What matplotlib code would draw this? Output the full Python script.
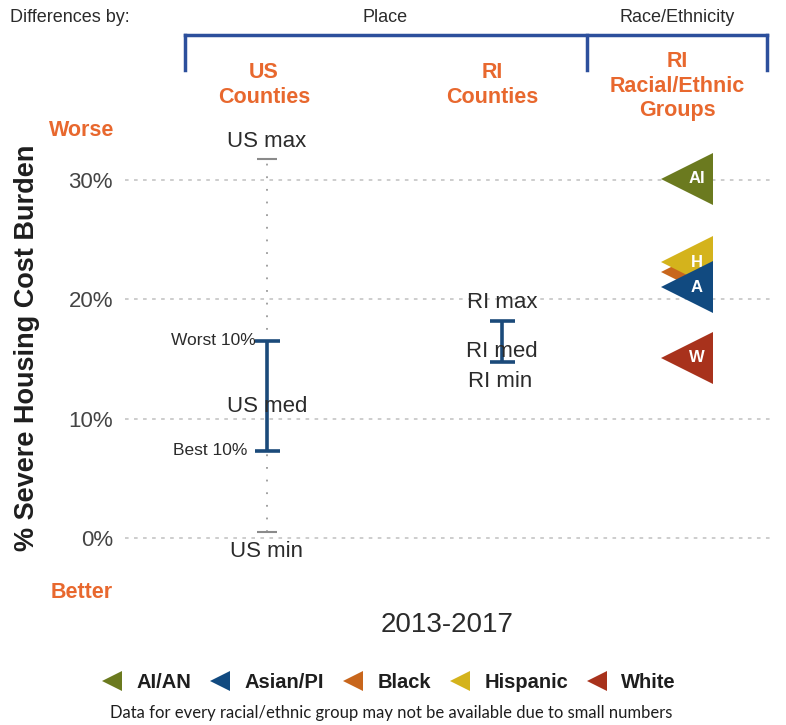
import matplotlib
matplotlib.use("Agg")
import matplotlib.pyplot as plt
from matplotlib.lines import Line2D

# ---------------- data ----------------
period = "2013-2017"
us_stats = {"min": 0.5, "best10": 7.3, "med": 11.0, "worst10": 16.5, "max": 31.7}
ri_stats = {"min": 14.7, "med": 15.6, "max": 18.2}
race_groups = ["AI/AN", "Asian/PI", "Black", "Hispanic", "White"]
race_letters = ["AI", "A", "B", "H", "W"]
race_values = [30.1, 21.0, 22.3, 23.1, 15.1]
race_colors = ["#6b7a1f", "#114a80", "#c8661c", "#d4b31c", "#a8321c"]
draw_order = ["AI/AN", "Black", "Hispanic", "Asian/PI", "White"]
y_ticks = [0, 10, 20, 30]
y_ticklabels = ["0%", "10%", "20%", "30%"]
group_headers = ["US\nCounties", "RI\nCounties", "RI\nRacial/Ethnic\nGroups"]

W, H = 786, 725
FONT = "Liberation Sans"
ORANGE = "#e8682e"
NAVY = "#1b4a7a"
BRACKET = "#2c4f9c"
TXT = "#2b2b2b"

plt.rcParams["font.family"] = [FONT, "DejaVu Sans"]

fig = plt.figure(figsize=(W / 100, H / 100), dpi=100)
fig.patch.set_facecolor("white")

def fx(x):
    return x / W

def fy(y):
    return 1 - y / H

# axes spanning pixel x 120..775, y 120..600
ax = fig.add_axes([fx(120), fy(600), fx(775) - fx(120), fy(120) - fy(600)])
ax.set_xlim(0, 1)
ax.set_ylim(-5.2, 35.0)
for s in ax.spines.values():
    s.set_visible(False)
ax.set_xticks([])
ax.set_yticks(y_ticks)
ax.set_yticklabels(y_ticklabels, fontsize=16, color="#444444")
ax.tick_params(axis="y", length=0, pad=5)

x_us, x_ri, x_race = 0.224, 0.583, 0.866

# grid lines
for t in y_ticks:
    ax.axhline(t, xmin=0.008, xmax=0.992, color="#c9c9c9", lw=1.3,
               linestyle=(0, (2, 3)), zorder=0)

# ---------------- US counties ----------------
ax.vlines(x_us, us_stats["min"], us_stats["max"], color="#9a9a9a", lw=1.3,
          linestyle=(0, (1, 6)), zorder=1)
for k in ("min", "max"):
    ax.hlines(us_stats[k], x_us - 0.015, x_us + 0.015, color="#8a8a8a", lw=1.5, zorder=2)
ax.errorbar([x_us], [(us_stats["best10"] + us_stats["worst10"]) / 2],
            yerr=[[(us_stats["worst10"] - us_stats["best10"]) / 2],
                  [(us_stats["worst10"] - us_stats["best10"]) / 2]],
            fmt="none", ecolor=NAVY, elinewidth=2.6, capsize=9, capthick=2.6, zorder=3)
ax.annotate("US max", (x_us, us_stats["max"]), xytext=(0, 13), textcoords="offset points",
            ha="center", va="center", fontsize=16, color=TXT)
ax.annotate("US min", (x_us, us_stats["min"]), xytext=(0, -14), textcoords="offset points",
            ha="center", va="center", fontsize=16, color=TXT)
ax.text(x_us, us_stats["med"], "US med", ha="center", va="center", fontsize=16, color=TXT, zorder=4)
ax.annotate("Worst 10%", (x_us, us_stats["worst10"]), xytext=(-8, 0), textcoords="offset points",
            ha="right", va="center", fontsize=12.5, color=TXT)
ax.annotate("Best 10%", (x_us, us_stats["best10"]), xytext=(-14, 0), textcoords="offset points",
            ha="right", va="center", fontsize=12.5, color=TXT)

# ---------------- RI counties ----------------
ax.errorbar([x_ri], [(ri_stats["min"] + ri_stats["max"]) / 2],
            yerr=[[(ri_stats["max"] - ri_stats["min"]) / 2],
                  [(ri_stats["max"] - ri_stats["min"]) / 2]],
            fmt="none", ecolor=NAVY, elinewidth=2.6, capsize=9, capthick=2.6, zorder=3)
ax.annotate("RI max", (x_ri, ri_stats["max"]), xytext=(0, 13), textcoords="offset points",
            ha="center", va="center", fontsize=16, color=TXT)
ax.annotate("RI min", (x_ri, ri_stats["min"]), xytext=(-1, -14), textcoords="offset points",
            ha="center", va="center", fontsize=16, color=TXT)
ax.text(x_ri, ri_stats["med"], "RI med", ha="center", va="center", fontsize=16, color=TXT, zorder=4)

# ---------------- race / ethnicity ----------------
for i, g in enumerate(draw_order):
    j = race_groups.index(g)
    z = 5 + 2 * i
    ax.plot([x_race], [race_values[j]], marker="<", markersize=38, color=race_colors[j],
            markeredgewidth=0, linestyle="none", zorder=z)
    ax.annotate(race_letters[j], (x_race, race_values[j]), xytext=(7, 0),
                textcoords="offset points", ha="center", va="center", fontsize=12,
                fontweight="bold", color="white", zorder=z + 1)

# ---------------- header ----------------
fig.text(fx(10), fy(18), "Differences by:", fontsize=13, color=TXT, ha="left", va="center")
fig.text(fx(385), fy(18), "Place", fontsize=13, color=TXT, ha="center", va="center")
fig.text(fx(677), fy(18), "Race/Ethnicity", fontsize=13, color=TXT, ha="center", va="center")
fig.add_artist(Line2D([fx(185), fx(767)], [fy(35), fy(35)], color=BRACKET, lw=2.5))
for xb in (185, 587, 767):
    fig.add_artist(Line2D([fx(xb), fx(xb)], [fy(35), fy(70)], color=BRACKET, lw=2.5))

header_x = [264, 492, 677]
header_y = [85, 85, 86]
for hx, hy, lab in zip(header_x, header_y, group_headers):
    fig.text(fx(hx), fy(hy), lab, fontsize=15.5, fontweight="bold", color=ORANGE,
             ha="center", va="center", linespacing=1.22)

fig.text(fx(82), fy(130), "Worse", fontsize=15.5, fontweight="bold", color=ORANGE, ha="center", va="center")
fig.text(fx(82), fy(593), "Better", fontsize=15.5, fontweight="bold", color=ORANGE, ha="center", va="center")

fig.text(fx(27), fy(348), "% Severe Housing Cost Burden", rotation=90, fontsize=19.5,
         fontweight="bold", color="#1e1e1e", ha="center", va="center")

fig.text(fx(447), fy(625), period, fontsize=20, color=TXT, ha="center", va="center")

# ---------------- legend ----------------
handles = [Line2D([], [], marker="<", markersize=14, color=c, linestyle="none",
                  markeredgewidth=0) for c in race_colors]
leg = fig.legend(handles, race_groups, loc="center", bbox_to_anchor=(fx(389), fy(683)),
                 ncol=5, frameon=False, handlelength=1.0, handletextpad=0.7,
                 columnspacing=0.95, borderpad=0.1,
                 prop={"family": FONT, "weight": "bold", "size": 14.5})
for t in leg.get_texts():
    t.set_color("#1e1e1e")

fig.text(fx(391), fy(713), "Data for every racial/ethnic group may not be available due to small numbers",
         fontsize=12, color="#1e1e1e", ha="center", va="center", family=["Lato", "DejaVu Sans"])

fig.savefig("out.png", dpi=100, facecolor="white")
